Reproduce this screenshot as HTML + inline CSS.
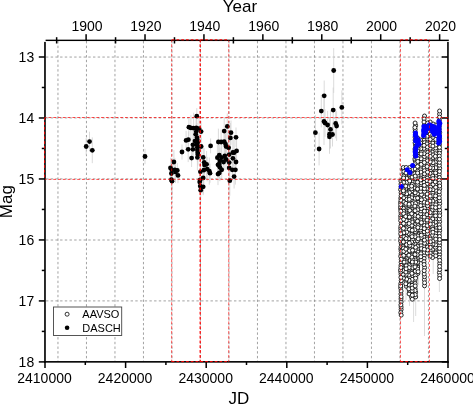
<!DOCTYPE html><html><head><meta charset="utf-8"><style>html,body{margin:0;padding:0;background:#fff;overflow:hidden;width:473px;height:404px;}svg{display:block;}text{font-family:"Liberation Sans",sans-serif;fill:#000;}svg{will-change:transform;}</style></head><body>
<svg width="473" height="404" viewBox="0 0 473 404">
<rect width="473" height="404" fill="#fff"/>
<line x1="57.96" y1="41" x2="57.96" y2="361" stroke="#8a8a8a" stroke-width="0.8" stroke-dasharray="2.4 2.3"/>
<line x1="86.46" y1="41" x2="86.46" y2="361" stroke="#8a8a8a" stroke-width="0.8" stroke-dasharray="2.4 2.3"/>
<line x1="114.96" y1="41" x2="114.96" y2="361" stroke="#8a8a8a" stroke-width="0.8" stroke-dasharray="2.4 2.3"/>
<line x1="143.46" y1="41" x2="143.46" y2="361" stroke="#8a8a8a" stroke-width="0.8" stroke-dasharray="2.4 2.3"/>
<line x1="171.96" y1="41" x2="171.96" y2="361" stroke="#8a8a8a" stroke-width="0.8" stroke-dasharray="2.4 2.3"/>
<line x1="200.46" y1="41" x2="200.46" y2="361" stroke="#8a8a8a" stroke-width="0.8" stroke-dasharray="2.4 2.3"/>
<line x1="228.96" y1="41" x2="228.96" y2="361" stroke="#8a8a8a" stroke-width="0.8" stroke-dasharray="2.4 2.3"/>
<line x1="257.46" y1="41" x2="257.46" y2="361" stroke="#8a8a8a" stroke-width="0.8" stroke-dasharray="2.4 2.3"/>
<line x1="285.96" y1="41" x2="285.96" y2="361" stroke="#8a8a8a" stroke-width="0.8" stroke-dasharray="2.4 2.3"/>
<line x1="314.46" y1="41" x2="314.46" y2="361" stroke="#8a8a8a" stroke-width="0.8" stroke-dasharray="2.4 2.3"/>
<line x1="342.96" y1="41" x2="342.96" y2="361" stroke="#8a8a8a" stroke-width="0.8" stroke-dasharray="2.4 2.3"/>
<line x1="371.46" y1="41" x2="371.46" y2="361" stroke="#8a8a8a" stroke-width="0.8" stroke-dasharray="2.4 2.3"/>
<line x1="399.96" y1="41" x2="399.96" y2="361" stroke="#8a8a8a" stroke-width="0.8" stroke-dasharray="2.4 2.3"/>
<line x1="428.46" y1="41" x2="428.46" y2="361" stroke="#8a8a8a" stroke-width="0.8" stroke-dasharray="2.4 2.3"/>
<line x1="46" y1="57.05" x2="447" y2="57.05" stroke="#8a8a8a" stroke-width="0.8" stroke-dasharray="2.4 2.3"/>
<line x1="46" y1="117.90" x2="447" y2="117.90" stroke="#8a8a8a" stroke-width="0.8" stroke-dasharray="2.4 2.3"/>
<line x1="46" y1="178.90" x2="447" y2="178.90" stroke="#8a8a8a" stroke-width="0.8" stroke-dasharray="2.4 2.3"/>
<line x1="46" y1="240.00" x2="447" y2="240.00" stroke="#8a8a8a" stroke-width="0.8" stroke-dasharray="2.4 2.3"/>
<line x1="46" y1="300.90" x2="447" y2="300.90" stroke="#8a8a8a" stroke-width="0.8" stroke-dasharray="2.4 2.3"/>
<g stroke="#d2d2d2" stroke-width="0.8"><line x1="89.5" y1="131.7" x2="89.5" y2="151.5"/><line x1="86.2" y1="138.1" x2="86.2" y2="154.9"/><line x1="92.3" y1="137.4" x2="92.3" y2="163.2"/><line x1="145.0" y1="148.8" x2="145.0" y2="164.2"/><line x1="173.9" y1="150.2" x2="173.9" y2="173.8"/><line x1="170.5" y1="157.7" x2="170.5" y2="178.3"/><line x1="171.8" y1="162.3" x2="171.8" y2="177.3"/><line x1="174.9" y1="158.2" x2="174.9" y2="181.4"/><line x1="177.3" y1="163.1" x2="177.3" y2="177.7"/><line x1="175.5" y1="161.1" x2="175.5" y2="182.9"/><line x1="171.4" y1="165.9" x2="171.4" y2="181.1"/><line x1="178.0" y1="167.6" x2="178.0" y2="183.2"/><line x1="171.4" y1="168.9" x2="171.4" y2="190.5"/><line x1="172.0" y1="166.8" x2="172.0" y2="195.6"/><line x1="196.8" y1="108.1" x2="196.8" y2="124.3"/><line x1="188.9" y1="118.2" x2="188.9" y2="136.2"/><line x1="190.9" y1="115.3" x2="190.9" y2="140.5"/><line x1="193.6" y1="112.7" x2="193.6" y2="143.7"/><line x1="196.3" y1="115.7" x2="196.3" y2="140.1"/><line x1="201.1" y1="121.0" x2="201.1" y2="142.2"/><line x1="196.3" y1="115.8" x2="196.3" y2="147.4"/><line x1="195.7" y1="126.9" x2="195.7" y2="141.7"/><line x1="197.0" y1="123.0" x2="197.0" y2="152.4"/><line x1="186.1" y1="130.8" x2="186.1" y2="150.0"/><line x1="188.4" y1="131.4" x2="188.4" y2="148.0"/><line x1="195.0" y1="133.0" x2="195.0" y2="149.2"/><line x1="197.7" y1="132.6" x2="197.7" y2="152.2"/><line x1="192.9" y1="130.5" x2="192.9" y2="159.1"/><line x1="201.1" y1="137.9" x2="201.1" y2="155.1"/><line x1="197.4" y1="135.0" x2="197.4" y2="159.4"/><line x1="188.2" y1="136.5" x2="188.2" y2="162.1"/><line x1="192.9" y1="138.9" x2="192.9" y2="159.7"/><line x1="197.4" y1="138.0" x2="197.4" y2="161.8"/><line x1="182.0" y1="144.4" x2="182.0" y2="159.6"/><line x1="197.7" y1="145.2" x2="197.7" y2="160.2"/><line x1="191.6" y1="149.2" x2="191.6" y2="167.0"/><line x1="197.4" y1="144.3" x2="197.4" y2="170.5"/><line x1="203.2" y1="146.6" x2="203.2" y2="168.2"/><line x1="197.2" y1="129.7" x2="197.2" y2="149.3"/><line x1="196.8" y1="132.3" x2="196.8" y2="156.9"/><line x1="197.9" y1="143.3" x2="197.9" y2="165.5"/><line x1="199.0" y1="118.9" x2="199.0" y2="138.3"/><line x1="204.2" y1="148.2" x2="204.2" y2="176.4"/><line x1="206.6" y1="151.0" x2="206.6" y2="177.6"/><line x1="204.5" y1="155.8" x2="204.5" y2="174.2"/><line x1="207.2" y1="156.9" x2="207.2" y2="181.3"/><line x1="200.4" y1="160.1" x2="200.4" y2="183.5"/><line x1="203.8" y1="155.3" x2="203.8" y2="185.1"/><line x1="209.3" y1="157.5" x2="209.3" y2="184.7"/><line x1="210.0" y1="163.6" x2="210.0" y2="182.8"/><line x1="203.2" y1="162.1" x2="203.2" y2="193.7"/><line x1="200.2" y1="171.9" x2="200.2" y2="188.1"/><line x1="199.7" y1="171.2" x2="199.7" y2="192.8"/><line x1="200.2" y1="172.3" x2="200.2" y2="199.9"/><line x1="203.2" y1="178.4" x2="203.2" y2="195.2"/><line x1="200.7" y1="178.8" x2="200.7" y2="201.6"/><line x1="210.6" y1="138.5" x2="210.6" y2="153.3"/><line x1="227.3" y1="113.4" x2="227.3" y2="139.4"/><line x1="224.2" y1="117.2" x2="224.2" y2="145.0"/><line x1="231.0" y1="120.5" x2="231.0" y2="144.9"/><line x1="230.4" y1="123.0" x2="230.4" y2="152.8"/><line x1="236.0" y1="127.5" x2="236.0" y2="147.1"/><line x1="218.4" y1="128.7" x2="218.4" y2="155.3"/><line x1="221.1" y1="129.7" x2="221.1" y2="154.3"/><line x1="224.2" y1="129.4" x2="224.2" y2="153.8"/><line x1="225.5" y1="133.0" x2="225.5" y2="155.2"/><line x1="226.1" y1="131.9" x2="226.1" y2="161.1"/><line x1="228.6" y1="132.3" x2="228.6" y2="163.3"/><line x1="236.6" y1="139.6" x2="236.6" y2="162.2"/><line x1="234.1" y1="139.7" x2="234.1" y2="165.7"/><line x1="229.2" y1="147.1" x2="229.2" y2="162.1"/><line x1="219.3" y1="141.9" x2="219.3" y2="168.5"/><line x1="217.4" y1="144.9" x2="217.4" y2="170.5"/><line x1="221.7" y1="141.8" x2="221.7" y2="173.6"/><line x1="224.8" y1="141.4" x2="224.8" y2="170.2"/><line x1="232.9" y1="148.7" x2="232.9" y2="167.9"/><line x1="226.1" y1="149.0" x2="226.1" y2="170.0"/><line x1="219.9" y1="147.8" x2="219.9" y2="173.8"/><line x1="223.6" y1="154.8" x2="223.6" y2="169.2"/><line x1="229.2" y1="151.4" x2="229.2" y2="173.8"/><line x1="236.0" y1="153.5" x2="236.0" y2="170.5"/><line x1="219.3" y1="155.8" x2="219.3" y2="172.0"/><line x1="218.0" y1="157.3" x2="218.0" y2="172.3"/><line x1="219.9" y1="153.4" x2="219.9" y2="181.2"/><line x1="221.7" y1="161.6" x2="221.7" y2="178.0"/><line x1="229.2" y1="158.7" x2="229.2" y2="177.1"/><line x1="232.3" y1="159.3" x2="232.3" y2="180.3"/><line x1="235.4" y1="155.0" x2="235.4" y2="184.6"/><line x1="219.3" y1="165.2" x2="219.3" y2="180.6"/><line x1="218.0" y1="163.1" x2="218.0" y2="185.1"/><line x1="234.1" y1="164.7" x2="234.1" y2="188.5"/><line x1="229.8" y1="165.7" x2="229.8" y2="195.7"/><line x1="232.9" y1="138.1" x2="232.9" y2="166.9"/><line x1="333.7" y1="48.1" x2="333.7" y2="92.9"/><line x1="324.2" y1="80.5" x2="324.2" y2="111.1"/><line x1="341.8" y1="90.4" x2="341.8" y2="124.4"/><line x1="321.3" y1="94.8" x2="321.3" y2="127.4"/><line x1="333.2" y1="87.5" x2="333.2" y2="132.7"/><line x1="324.0" y1="98.0" x2="324.0" y2="145.0"/><line x1="325.0" y1="109.2" x2="325.0" y2="136.8"/><line x1="327.6" y1="110.9" x2="327.6" y2="139.1"/><line x1="335.7" y1="108.7" x2="335.7" y2="138.3"/><line x1="336.6" y1="111.2" x2="336.6" y2="140.8"/><line x1="315.4" y1="114.9" x2="315.4" y2="150.5"/><line x1="330.5" y1="110.3" x2="330.5" y2="148.5"/><line x1="329.5" y1="119.0" x2="329.5" y2="149.4"/><line x1="332.5" y1="122.5" x2="332.5" y2="146.5"/><line x1="329.5" y1="119.8" x2="329.5" y2="153.8"/><line x1="319.1" y1="132.6" x2="319.1" y2="165.4"/><line x1="400.6" y1="300" x2="400.6" y2="326"/><line x1="413.6" y1="290" x2="413.6" y2="322"/><line x1="415.7" y1="285" x2="415.7" y2="316"/><line x1="424.5" y1="270" x2="424.5" y2="336"/><line x1="439.4" y1="270" x2="439.4" y2="292"/><line x1="433.2" y1="250" x2="433.2" y2="274"/><line x1="418.6" y1="262" x2="418.6" y2="285"/><line x1="406" y1="285" x2="406" y2="300"/><line x1="409.5" y1="288" x2="409.5" y2="306"/></g>
<g fill="#fff" stroke="#111" stroke-width="0.9"><circle cx="415.1" cy="222.3" r="2.0"/><circle cx="412.3" cy="192.7" r="2.0"/><circle cx="435.7" cy="241.6" r="2.0"/><circle cx="401.2" cy="243.7" r="2.0"/><circle cx="403.3" cy="169.1" r="2.0"/><circle cx="412.4" cy="172.1" r="2.0"/><circle cx="418.2" cy="200.3" r="2.0"/><circle cx="435.7" cy="202.1" r="2.0"/><circle cx="415.4" cy="226.8" r="2.0"/><circle cx="414.9" cy="180.0" r="2.0"/><circle cx="406.3" cy="218.9" r="2.0"/><circle cx="411.6" cy="283.6" r="2.0"/><circle cx="403.9" cy="217.7" r="2.0"/><circle cx="427.5" cy="133.8" r="2.0"/><circle cx="421.3" cy="197.4" r="2.0"/><circle cx="405.9" cy="206.5" r="2.0"/><circle cx="406.6" cy="190.0" r="2.0"/><circle cx="415.0" cy="185.0" r="2.0"/><circle cx="424.2" cy="125.2" r="2.0"/><circle cx="406.1" cy="188.5" r="2.0"/><circle cx="400.6" cy="202.4" r="2.0"/><circle cx="415.6" cy="213.3" r="2.0"/><circle cx="417.9" cy="202.4" r="2.0"/><circle cx="403.4" cy="272.2" r="2.0"/><circle cx="412.5" cy="269.5" r="2.0"/><circle cx="411.7" cy="277.2" r="2.0"/><circle cx="418.1" cy="259.8" r="2.0"/><circle cx="439.7" cy="212.9" r="2.0"/><circle cx="430.4" cy="229.9" r="2.0"/><circle cx="417.6" cy="231.7" r="2.0"/><circle cx="420.6" cy="177.1" r="2.0"/><circle cx="400.6" cy="189.6" r="2.0"/><circle cx="412.5" cy="174.3" r="2.0"/><circle cx="401.1" cy="253.9" r="2.0"/><circle cx="417.7" cy="179.5" r="2.0"/><circle cx="406.0" cy="281.1" r="2.0"/><circle cx="408.8" cy="185.1" r="2.0"/><circle cx="401.1" cy="192.7" r="2.0"/><circle cx="408.8" cy="194.8" r="2.0"/><circle cx="415.5" cy="144.7" r="2.0"/><circle cx="427.4" cy="150.0" r="2.0"/><circle cx="417.9" cy="155.7" r="2.0"/><circle cx="433.1" cy="132.5" r="2.0"/><circle cx="430.2" cy="209.7" r="2.0"/><circle cx="417.6" cy="257.5" r="2.0"/><circle cx="432.8" cy="170.5" r="2.0"/><circle cx="403.5" cy="194.3" r="2.0"/><circle cx="406.2" cy="257.1" r="2.0"/><circle cx="432.9" cy="149.0" r="2.0"/><circle cx="415.5" cy="223.9" r="2.0"/><circle cx="415.2" cy="182.0" r="2.0"/><circle cx="427.4" cy="191.4" r="2.0"/><circle cx="435.3" cy="159.1" r="2.0"/><circle cx="435.8" cy="170.1" r="2.0"/><circle cx="415.6" cy="170.9" r="2.0"/><circle cx="421.4" cy="202.5" r="2.0"/><circle cx="409.2" cy="282.3" r="2.0"/><circle cx="420.6" cy="140.0" r="2.0"/><circle cx="435.8" cy="133.5" r="2.0"/><circle cx="418.2" cy="243.8" r="2.0"/><circle cx="424.1" cy="234.5" r="2.0"/><circle cx="427.0" cy="169.0" r="2.0"/><circle cx="400.7" cy="288.2" r="2.0"/><circle cx="435.8" cy="142.5" r="2.0"/><circle cx="405.8" cy="201.3" r="2.0"/><circle cx="401.1" cy="309.5" r="2.0"/><circle cx="409.2" cy="212.6" r="2.0"/><circle cx="404.0" cy="200.0" r="2.0"/><circle cx="427.5" cy="158.3" r="2.0"/><circle cx="400.9" cy="181.0" r="2.0"/><circle cx="412.5" cy="252.8" r="2.0"/><circle cx="439.4" cy="272.6" r="2.0"/><circle cx="430.4" cy="150.8" r="2.0"/><circle cx="417.6" cy="177.7" r="2.0"/><circle cx="417.7" cy="264.6" r="2.0"/><circle cx="421.0" cy="145.8" r="2.0"/><circle cx="403.1" cy="206.2" r="2.0"/><circle cx="439.3" cy="174.4" r="2.0"/><circle cx="439.7" cy="150.5" r="2.0"/><circle cx="439.5" cy="153.3" r="2.0"/><circle cx="406.0" cy="208.3" r="2.0"/><circle cx="415.6" cy="292.3" r="2.0"/><circle cx="424.0" cy="237.3" r="2.0"/><circle cx="406.0" cy="210.8" r="2.0"/><circle cx="433.1" cy="198.3" r="2.0"/><circle cx="430.0" cy="165.1" r="2.0"/><circle cx="439.4" cy="141.6" r="2.0"/><circle cx="403.4" cy="221.0" r="2.0"/><circle cx="427.6" cy="236.4" r="2.0"/><circle cx="418.1" cy="146.1" r="2.0"/><circle cx="430.3" cy="236.1" r="2.0"/><circle cx="409.3" cy="257.7" r="2.0"/><circle cx="405.7" cy="270.2" r="2.0"/><circle cx="409.6" cy="271.1" r="2.0"/><circle cx="439.6" cy="254.5" r="2.0"/><circle cx="409.6" cy="272.5" r="2.0"/><circle cx="409.5" cy="214.7" r="2.0"/><circle cx="409.7" cy="292.1" r="2.0"/><circle cx="424.6" cy="165.2" r="2.0"/><circle cx="435.4" cy="249.6" r="2.0"/><circle cx="411.7" cy="210.1" r="2.0"/><circle cx="424.4" cy="131.3" r="2.0"/><circle cx="435.6" cy="164.8" r="2.0"/><circle cx="400.7" cy="209.0" r="2.0"/><circle cx="415.5" cy="220.3" r="2.0"/><circle cx="411.6" cy="297.1" r="2.0"/><circle cx="404.0" cy="239.2" r="2.0"/><circle cx="424.3" cy="194.1" r="2.0"/><circle cx="412.5" cy="217.6" r="2.0"/><circle cx="412.6" cy="208.1" r="2.0"/><circle cx="411.8" cy="167.5" r="2.0"/><circle cx="420.7" cy="167.1" r="2.0"/><circle cx="412.3" cy="299.2" r="2.0"/><circle cx="406.7" cy="254.3" r="2.0"/><circle cx="403.3" cy="167.5" r="2.0"/><circle cx="421.0" cy="156.6" r="2.0"/><circle cx="415.1" cy="132.1" r="2.0"/><circle cx="400.7" cy="228.3" r="2.0"/><circle cx="439.5" cy="144.5" r="2.0"/><circle cx="433.0" cy="160.2" r="2.0"/><circle cx="430.1" cy="148.2" r="2.0"/><circle cx="409.6" cy="176.3" r="2.0"/><circle cx="415.2" cy="160.7" r="2.0"/><circle cx="439.6" cy="138.5" r="2.0"/><circle cx="411.8" cy="201.6" r="2.0"/><circle cx="406.2" cy="251.0" r="2.0"/><circle cx="430.3" cy="184.7" r="2.0"/><circle cx="427.1" cy="141.5" r="2.0"/><circle cx="411.8" cy="205.4" r="2.0"/><circle cx="409.1" cy="227.2" r="2.0"/><circle cx="424.2" cy="246.3" r="2.0"/><circle cx="412.0" cy="200.0" r="2.0"/><circle cx="439.7" cy="263.4" r="2.0"/><circle cx="418.0" cy="195.8" r="2.0"/><circle cx="430.4" cy="142.4" r="2.0"/><circle cx="439.4" cy="257.5" r="2.0"/><circle cx="412.0" cy="220.0" r="2.0"/><circle cx="411.9" cy="223.9" r="2.0"/><circle cx="439.4" cy="177.5" r="2.0"/><circle cx="415.5" cy="256.4" r="2.0"/><circle cx="409.6" cy="178.8" r="2.0"/><circle cx="430.0" cy="178.8" r="2.0"/><circle cx="415.0" cy="258.4" r="2.0"/><circle cx="411.7" cy="228.2" r="2.0"/><circle cx="406.3" cy="286.3" r="2.0"/><circle cx="430.3" cy="233.0" r="2.0"/><circle cx="432.7" cy="213.0" r="2.0"/><circle cx="435.8" cy="167.7" r="2.0"/><circle cx="433.0" cy="246.6" r="2.0"/><circle cx="420.8" cy="216.9" r="2.0"/><circle cx="406.7" cy="169.0" r="2.0"/><circle cx="417.7" cy="204.7" r="2.0"/><circle cx="418.1" cy="214.2" r="2.0"/><circle cx="439.7" cy="269.5" r="2.0"/><circle cx="430.1" cy="131.0" r="2.0"/><circle cx="417.9" cy="140.8" r="2.0"/><circle cx="439.3" cy="129.2" r="2.0"/><circle cx="403.1" cy="179.6" r="2.0"/><circle cx="435.9" cy="227.8" r="2.0"/><circle cx="411.6" cy="248.3" r="2.0"/><circle cx="424.4" cy="255.2" r="2.0"/><circle cx="427.4" cy="208.5" r="2.0"/><circle cx="401.0" cy="274.3" r="2.0"/><circle cx="403.6" cy="215.6" r="2.0"/><circle cx="433.0" cy="238.4" r="2.0"/><circle cx="401.1" cy="302.0" r="2.0"/><circle cx="430.2" cy="159.4" r="2.0"/><circle cx="424.1" cy="205.5" r="2.0"/><circle cx="415.2" cy="273.1" r="2.0"/><circle cx="439.7" cy="168.2" r="2.0"/><circle cx="411.8" cy="292.5" r="2.0"/><circle cx="403.9" cy="225.7" r="2.0"/><circle cx="433.1" cy="252.0" r="2.0"/><circle cx="424.1" cy="196.9" r="2.0"/><circle cx="427.4" cy="244.5" r="2.0"/><circle cx="406.5" cy="234.1" r="2.0"/><circle cx="432.7" cy="255.0" r="2.0"/><circle cx="403.6" cy="264.0" r="2.0"/><circle cx="409.7" cy="241.5" r="2.0"/><circle cx="403.9" cy="209.6" r="2.0"/><circle cx="420.8" cy="225.1" r="2.0"/><circle cx="403.3" cy="208.2" r="2.0"/><circle cx="406.4" cy="184.6" r="2.0"/><circle cx="430.4" cy="170.7" r="2.0"/><circle cx="439.5" cy="171.4" r="2.0"/><circle cx="403.2" cy="257.7" r="2.0"/><circle cx="424.1" cy="159.5" r="2.0"/><circle cx="412.5" cy="203.3" r="2.0"/><circle cx="417.7" cy="249.1" r="2.0"/><circle cx="424.3" cy="139.7" r="2.0"/><circle cx="424.5" cy="142.7" r="2.0"/><circle cx="432.5" cy="249.6" r="2.0"/><circle cx="430.4" cy="136.9" r="2.0"/><circle cx="403.9" cy="266.8" r="2.0"/><circle cx="415.3" cy="239.0" r="2.0"/><circle cx="415.1" cy="142.8" r="2.0"/><circle cx="420.8" cy="161.5" r="2.0"/><circle cx="427.4" cy="125.8" r="2.0"/><circle cx="415.7" cy="166.1" r="2.0"/><circle cx="424.4" cy="156.5" r="2.0"/><circle cx="424.4" cy="279.8" r="2.0"/><circle cx="427.4" cy="152.4" r="2.0"/><circle cx="439.6" cy="221.7" r="2.0"/><circle cx="401.1" cy="262.3" r="2.0"/><circle cx="427.6" cy="138.8" r="2.0"/><circle cx="417.9" cy="169.0" r="2.0"/><circle cx="409.4" cy="190.4" r="2.0"/><circle cx="439.6" cy="251.3" r="2.0"/><circle cx="409.1" cy="231.9" r="2.0"/><circle cx="421.0" cy="239.9" r="2.0"/><circle cx="414.9" cy="159.0" r="2.0"/><circle cx="408.9" cy="219.4" r="2.0"/><circle cx="432.9" cy="173.3" r="2.0"/><circle cx="409.1" cy="293.9" r="2.0"/><circle cx="400.6" cy="241.1" r="2.0"/><circle cx="411.9" cy="190.9" r="2.0"/><circle cx="409.7" cy="262.1" r="2.0"/><circle cx="409.3" cy="252.4" r="2.0"/><circle cx="430.0" cy="226.8" r="2.0"/><circle cx="435.5" cy="247.2" r="2.0"/><circle cx="421.0" cy="174.4" r="2.0"/><circle cx="432.7" cy="216.2" r="2.0"/><circle cx="414.9" cy="173.5" r="2.0"/><circle cx="430.4" cy="206.6" r="2.0"/><circle cx="415.4" cy="218.3" r="2.0"/><circle cx="439.3" cy="224.8" r="2.0"/><circle cx="427.4" cy="200.6" r="2.0"/><circle cx="403.6" cy="234.8" r="2.0"/><circle cx="403.5" cy="276.8" r="2.0"/><circle cx="432.9" cy="157.5" r="2.0"/><circle cx="409.0" cy="208.1" r="2.0"/><circle cx="418.1" cy="234.1" r="2.0"/><circle cx="417.8" cy="223.0" r="2.0"/><circle cx="439.7" cy="132.4" r="2.0"/><circle cx="415.2" cy="251.8" r="2.0"/><circle cx="420.7" cy="219.9" r="2.0"/><circle cx="409.1" cy="205.7" r="2.0"/><circle cx="404.0" cy="244.1" r="2.0"/><circle cx="417.8" cy="273.5" r="2.0"/><circle cx="409.5" cy="260.4" r="2.0"/><circle cx="417.8" cy="229.7" r="2.0"/><circle cx="405.9" cy="212.9" r="2.0"/><circle cx="427.3" cy="242.0" r="2.0"/><circle cx="405.8" cy="283.8" r="2.0"/><circle cx="406.5" cy="174.5" r="2.0"/><circle cx="424.5" cy="219.8" r="2.0"/><circle cx="435.8" cy="175.9" r="2.0"/><circle cx="412.2" cy="266.3" r="2.0"/><circle cx="427.1" cy="211.4" r="2.0"/><circle cx="432.8" cy="181.9" r="2.0"/><circle cx="400.8" cy="283.7" r="2.0"/><circle cx="415.7" cy="234.6" r="2.0"/><circle cx="439.7" cy="230.6" r="2.0"/><circle cx="400.7" cy="215.9" r="2.0"/><circle cx="418.1" cy="218.8" r="2.0"/><circle cx="406.7" cy="171.5" r="2.0"/><circle cx="405.8" cy="240.0" r="2.0"/><circle cx="406.1" cy="225.8" r="2.0"/><circle cx="411.7" cy="211.8" r="2.0"/><circle cx="415.1" cy="215.4" r="2.0"/><circle cx="406.4" cy="276.7" r="2.0"/><circle cx="417.6" cy="212.4" r="2.0"/><circle cx="421.3" cy="232.4" r="2.0"/><circle cx="415.0" cy="241.9" r="2.0"/><circle cx="415.6" cy="163.5" r="2.0"/><circle cx="432.8" cy="152.1" r="2.0"/><circle cx="435.6" cy="244.8" r="2.0"/><circle cx="424.1" cy="168.0" r="2.0"/><circle cx="435.4" cy="162.0" r="2.0"/><circle cx="412.3" cy="275.7" r="2.0"/><circle cx="409.6" cy="167.5" r="2.0"/><circle cx="435.8" cy="136.4" r="2.0"/><circle cx="417.5" cy="240.8" r="2.0"/><circle cx="406.2" cy="264.1" r="2.0"/><circle cx="432.5" cy="165.5" r="2.0"/><circle cx="424.5" cy="116.0" r="2.0"/><circle cx="406.7" cy="258.8" r="2.0"/><circle cx="424.5" cy="243.2" r="2.0"/><circle cx="435.8" cy="230.8" r="2.0"/><circle cx="435.8" cy="150.8" r="2.0"/><circle cx="408.8" cy="225.7" r="2.0"/><circle cx="405.8" cy="176.3" r="2.0"/><circle cx="415.3" cy="194.4" r="2.0"/><circle cx="415.3" cy="260.0" r="2.0"/><circle cx="411.9" cy="271.8" r="2.0"/><circle cx="400.9" cy="294.0" r="2.0"/><circle cx="417.7" cy="267.0" r="2.0"/><circle cx="424.4" cy="222.9" r="2.0"/><circle cx="415.2" cy="155.3" r="2.0"/><circle cx="424.4" cy="170.7" r="2.0"/><circle cx="439.3" cy="233.6" r="2.0"/><circle cx="404.0" cy="195.9" r="2.0"/><circle cx="411.8" cy="232.9" r="2.0"/><circle cx="424.1" cy="118.9" r="2.0"/><circle cx="435.7" cy="148.0" r="2.0"/><circle cx="415.5" cy="244.6" r="2.0"/><circle cx="412.3" cy="259.3" r="2.0"/><circle cx="424.5" cy="225.5" r="2.0"/><circle cx="439.6" cy="245.3" r="2.0"/><circle cx="405.8" cy="223.3" r="2.0"/><circle cx="427.5" cy="175.1" r="2.0"/><circle cx="400.7" cy="256.3" r="2.0"/><circle cx="427.5" cy="247.0" r="2.0"/><circle cx="424.6" cy="267.6" r="2.0"/><circle cx="424.2" cy="151.0" r="2.0"/><circle cx="406.1" cy="260.7" r="2.0"/><circle cx="432.7" cy="129.7" r="2.0"/><circle cx="427.0" cy="136.3" r="2.0"/><circle cx="415.6" cy="190.0" r="2.0"/><circle cx="406.5" cy="192.3" r="2.0"/><circle cx="409.5" cy="277.7" r="2.0"/><circle cx="400.8" cy="198.2" r="2.0"/><circle cx="435.5" cy="219.0" r="2.0"/><circle cx="430.1" cy="175.9" r="2.0"/><circle cx="424.2" cy="153.7" r="2.0"/><circle cx="400.8" cy="312.6" r="2.0"/><circle cx="415.0" cy="280.8" r="2.0"/><circle cx="432.7" cy="168.1" r="2.0"/><circle cx="417.8" cy="191.2" r="2.0"/><circle cx="421.4" cy="250.9" r="2.0"/><circle cx="415.2" cy="178.2" r="2.0"/><circle cx="401.2" cy="223.7" r="2.0"/><circle cx="400.8" cy="230.8" r="2.0"/><circle cx="417.5" cy="193.8" r="2.0"/><circle cx="412.6" cy="169.4" r="2.0"/><circle cx="435.5" cy="233.5" r="2.0"/><circle cx="421.4" cy="194.5" r="2.0"/><circle cx="403.6" cy="204.1" r="2.0"/><circle cx="406.0" cy="180.8" r="2.0"/><circle cx="420.6" cy="185.6" r="2.0"/><circle cx="411.9" cy="225.4" r="2.0"/><circle cx="403.5" cy="268.4" r="2.0"/><circle cx="408.9" cy="275.0" r="2.0"/><circle cx="430.3" cy="153.8" r="2.0"/><circle cx="432.6" cy="226.7" r="2.0"/><circle cx="435.9" cy="193.0" r="2.0"/><circle cx="427.1" cy="239.0" r="2.0"/><circle cx="421.1" cy="158.8" r="2.0"/><circle cx="408.9" cy="201.7" r="2.0"/><circle cx="439.7" cy="203.7" r="2.0"/><circle cx="435.7" cy="184.9" r="2.0"/><circle cx="430.2" cy="134.2" r="2.0"/><circle cx="427.3" cy="186.3" r="2.0"/><circle cx="439.6" cy="227.7" r="2.0"/><circle cx="409.6" cy="188.2" r="2.0"/><circle cx="424.2" cy="176.7" r="2.0"/><circle cx="429.9" cy="203.9" r="2.0"/><circle cx="427.0" cy="143.9" r="2.0"/><circle cx="400.8" cy="249.0" r="2.0"/><circle cx="439.3" cy="180.3" r="2.0"/><circle cx="415.3" cy="268.6" r="2.0"/><circle cx="430.4" cy="193.0" r="2.0"/><circle cx="420.9" cy="242.8" r="2.0"/><circle cx="424.1" cy="258.5" r="2.0"/><circle cx="424.0" cy="148.4" r="2.0"/><circle cx="406.6" cy="195.3" r="2.0"/><circle cx="433.0" cy="244.1" r="2.0"/><circle cx="409.3" cy="174.2" r="2.0"/><circle cx="439.3" cy="126.4" r="2.0"/><circle cx="427.5" cy="228.4" r="2.0"/><circle cx="408.9" cy="236.0" r="2.0"/><circle cx="435.5" cy="153.7" r="2.0"/><circle cx="439.7" cy="260.3" r="2.0"/><circle cx="415.7" cy="157.2" r="2.0"/><circle cx="432.6" cy="257.5" r="2.0"/><circle cx="408.8" cy="264.2" r="2.0"/><circle cx="439.3" cy="218.9" r="2.0"/><circle cx="430.2" cy="244.3" r="2.0"/><circle cx="427.5" cy="205.8" r="2.0"/><circle cx="433.0" cy="204.1" r="2.0"/><circle cx="403.6" cy="230.6" r="2.0"/><circle cx="430.1" cy="250.4" r="2.0"/><circle cx="411.6" cy="179.5" r="2.0"/><circle cx="424.5" cy="276.7" r="2.0"/><circle cx="424.4" cy="208.2" r="2.0"/><circle cx="403.6" cy="211.3" r="2.0"/><circle cx="417.7" cy="158.6" r="2.0"/><circle cx="427.3" cy="197.4" r="2.0"/><circle cx="427.6" cy="223.2" r="2.0"/><circle cx="427.3" cy="225.6" r="2.0"/><circle cx="424.1" cy="214.3" r="2.0"/><circle cx="409.1" cy="247.5" r="2.0"/><circle cx="432.6" cy="209.9" r="2.0"/><circle cx="404.0" cy="186.5" r="2.0"/><circle cx="403.9" cy="173.3" r="2.0"/><circle cx="424.5" cy="285.8" r="2.0"/><circle cx="412.1" cy="222.0" r="2.0"/><circle cx="415.1" cy="137.1" r="2.0"/><circle cx="424.0" cy="134.1" r="2.0"/><circle cx="432.6" cy="187.2" r="2.0"/><circle cx="403.3" cy="189.1" r="2.0"/><circle cx="406.5" cy="227.9" r="2.0"/><circle cx="400.7" cy="238.4" r="2.0"/><circle cx="433.0" cy="184.5" r="2.0"/><circle cx="435.5" cy="225.0" r="2.0"/><circle cx="432.8" cy="140.7" r="2.0"/><circle cx="424.4" cy="240.1" r="2.0"/><circle cx="417.9" cy="252.0" r="2.0"/><circle cx="433.1" cy="162.7" r="2.0"/><circle cx="420.7" cy="230.0" r="2.0"/><circle cx="427.2" cy="178.1" r="2.0"/><circle cx="427.6" cy="164.0" r="2.0"/><circle cx="412.1" cy="181.9" r="2.0"/><circle cx="420.7" cy="169.8" r="2.0"/><circle cx="432.9" cy="192.9" r="2.0"/><circle cx="415.7" cy="153.5" r="2.0"/><circle cx="435.5" cy="222.1" r="2.0"/><circle cx="405.7" cy="214.7" r="2.0"/><circle cx="427.5" cy="155.2" r="2.0"/><circle cx="432.6" cy="221.7" r="2.0"/><circle cx="415.3" cy="271.2" r="2.0"/><circle cx="401.1" cy="307.1" r="2.0"/><circle cx="439.4" cy="194.7" r="2.0"/><circle cx="400.8" cy="218.2" r="2.0"/><circle cx="411.8" cy="281.3" r="2.0"/><circle cx="405.9" cy="205.0" r="2.0"/><circle cx="432.9" cy="224.1" r="2.0"/><circle cx="432.8" cy="229.4" r="2.0"/><circle cx="432.7" cy="235.2" r="2.0"/><circle cx="403.3" cy="249.8" r="2.0"/><circle cx="439.7" cy="188.8" r="2.0"/><circle cx="406.6" cy="178.3" r="2.0"/><circle cx="435.8" cy="210.4" r="2.0"/><circle cx="406.0" cy="197.3" r="2.0"/><circle cx="400.6" cy="207.0" r="2.0"/><circle cx="421.1" cy="259.9" r="2.0"/><circle cx="412.4" cy="264.3" r="2.0"/><circle cx="417.8" cy="236.0" r="2.0"/><circle cx="411.8" cy="255.6" r="2.0"/><circle cx="401.1" cy="213.2" r="2.0"/><circle cx="433.1" cy="154.9" r="2.0"/><circle cx="439.4" cy="120.2" r="2.0"/><circle cx="411.9" cy="215.4" r="2.0"/><circle cx="439.5" cy="236.5" r="2.0"/><circle cx="403.9" cy="171.7" r="2.0"/><circle cx="406.4" cy="247.4" r="2.0"/><circle cx="435.6" cy="178.7" r="2.0"/><circle cx="417.9" cy="175.2" r="2.0"/><circle cx="439.6" cy="242.4" r="2.0"/><circle cx="409.1" cy="221.1" r="2.0"/><circle cx="415.1" cy="288.6" r="2.0"/><circle cx="418.2" cy="207.5" r="2.0"/><circle cx="406.2" cy="274.3" r="2.0"/><circle cx="421.2" cy="182.9" r="2.0"/><circle cx="417.6" cy="269.0" r="2.0"/><circle cx="424.0" cy="261.7" r="2.0"/><circle cx="406.6" cy="199.5" r="2.0"/><circle cx="415.1" cy="290.5" r="2.0"/><circle cx="420.7" cy="213.8" r="2.0"/><circle cx="404.0" cy="184.5" r="2.0"/><circle cx="430.5" cy="187.2" r="2.0"/><circle cx="433.0" cy="137.5" r="2.0"/><circle cx="409.6" cy="290.3" r="2.0"/><circle cx="435.3" cy="181.9" r="2.0"/><circle cx="409.5" cy="192.7" r="2.0"/><circle cx="401.0" cy="186.8" r="2.0"/><circle cx="420.9" cy="172.1" r="2.0"/><circle cx="415.0" cy="149.0" r="2.0"/><circle cx="415.6" cy="125.5" r="2.0"/><circle cx="424.2" cy="274.0" r="2.0"/><circle cx="415.4" cy="275.6" r="2.0"/><circle cx="435.9" cy="190.3" r="2.0"/><circle cx="400.9" cy="226.2" r="2.0"/><circle cx="432.7" cy="176.0" r="2.0"/><circle cx="427.4" cy="147.0" r="2.0"/><circle cx="412.1" cy="290.8" r="2.0"/><circle cx="404.0" cy="253.8" r="2.0"/><circle cx="430.3" cy="217.9" r="2.0"/><circle cx="406.2" cy="220.6" r="2.0"/><circle cx="415.3" cy="231.7" r="2.0"/><circle cx="420.7" cy="191.4" r="2.0"/><circle cx="403.6" cy="197.8" r="2.0"/><circle cx="427.5" cy="160.8" r="2.0"/><circle cx="439.6" cy="200.7" r="2.0"/><circle cx="421.0" cy="245.8" r="2.0"/><circle cx="435.4" cy="156.3" r="2.0"/><circle cx="401.0" cy="200.3" r="2.0"/><circle cx="401.0" cy="298.9" r="2.0"/><circle cx="427.5" cy="233.7" r="2.0"/><circle cx="439.7" cy="215.8" r="2.0"/><circle cx="414.9" cy="201.3" r="2.0"/><circle cx="421.1" cy="151.3" r="2.0"/><circle cx="439.6" cy="239.5" r="2.0"/><circle cx="427.1" cy="217.7" r="2.0"/><circle cx="409.5" cy="183.4" r="2.0"/><circle cx="424.5" cy="199.6" r="2.0"/><circle cx="439.5" cy="123.3" r="2.0"/><circle cx="432.8" cy="143.2" r="2.0"/><circle cx="432.7" cy="218.9" r="2.0"/><circle cx="417.6" cy="138.0" r="2.0"/><circle cx="420.8" cy="148.7" r="2.0"/><circle cx="409.7" cy="249.2" r="2.0"/><circle cx="427.1" cy="214.6" r="2.0"/><circle cx="417.6" cy="152.7" r="2.0"/><circle cx="415.7" cy="264.9" r="2.0"/><circle cx="401.0" cy="265.3" r="2.0"/><circle cx="430.2" cy="253.1" r="2.0"/><circle cx="432.9" cy="126.6" r="2.0"/><circle cx="427.2" cy="194.1" r="2.0"/><circle cx="415.5" cy="134.8" r="2.0"/><circle cx="404.1" cy="260.4" r="2.0"/><circle cx="417.4" cy="246.2" r="2.0"/><circle cx="415.1" cy="187.9" r="2.0"/><circle cx="415.1" cy="283.5" r="2.0"/><circle cx="433.0" cy="189.7" r="2.0"/><circle cx="415.2" cy="169.0" r="2.0"/><circle cx="404.0" cy="202.0" r="2.0"/><circle cx="403.1" cy="274.6" r="2.0"/><circle cx="424.3" cy="231.8" r="2.0"/><circle cx="406.2" cy="229.9" r="2.0"/><circle cx="417.8" cy="187.1" r="2.0"/><circle cx="424.2" cy="217.1" r="2.0"/><circle cx="439.5" cy="147.4" r="2.0"/><circle cx="403.6" cy="223.5" r="2.0"/><circle cx="409.3" cy="234.0" r="2.0"/><circle cx="409.2" cy="186.7" r="2.0"/><circle cx="412.1" cy="177.1" r="2.0"/><circle cx="435.7" cy="145.1" r="2.0"/><circle cx="406.7" cy="232.2" r="2.0"/><circle cx="433.0" cy="240.9" r="2.0"/><circle cx="412.2" cy="279.4" r="2.0"/><circle cx="409.1" cy="280.4" r="2.0"/><circle cx="417.5" cy="254.7" r="2.0"/><circle cx="400.7" cy="286.0" r="2.0"/><circle cx="420.9" cy="188.3" r="2.0"/><circle cx="415.7" cy="296.9" r="2.0"/><circle cx="409.8" cy="210.5" r="2.0"/><circle cx="439.6" cy="209.9" r="2.0"/><circle cx="439.6" cy="266.4" r="2.0"/><circle cx="420.9" cy="210.9" r="2.0"/><circle cx="430.0" cy="173.3" r="2.0"/><circle cx="424.1" cy="264.5" r="2.0"/><circle cx="415.0" cy="254.5" r="2.0"/><circle cx="424.3" cy="252.4" r="2.0"/><circle cx="421.3" cy="208.6" r="2.0"/><circle cx="400.7" cy="220.7" r="2.0"/><circle cx="405.9" cy="243.2" r="2.0"/><circle cx="415.1" cy="140.1" r="2.0"/><circle cx="427.2" cy="188.8" r="2.0"/><circle cx="406.6" cy="279.1" r="2.0"/><circle cx="418.1" cy="271.7" r="2.0"/><circle cx="435.7" cy="236.2" r="2.0"/><circle cx="430.2" cy="221.1" r="2.0"/><circle cx="430.1" cy="167.7" r="2.0"/><circle cx="411.9" cy="195.5" r="2.0"/><circle cx="435.8" cy="125.0" r="2.0"/><circle cx="435.8" cy="139.4" r="2.0"/><circle cx="420.7" cy="179.9" r="2.0"/><circle cx="418.1" cy="148.9" r="2.0"/><circle cx="435.7" cy="252.9" r="2.0"/><circle cx="430.3" cy="224.1" r="2.0"/><circle cx="432.7" cy="207.0" r="2.0"/><circle cx="415.1" cy="123.0" r="2.0"/><circle cx="430.3" cy="145.5" r="2.0"/><circle cx="409.3" cy="265.6" r="2.0"/><circle cx="429.9" cy="128.4" r="2.0"/><circle cx="432.8" cy="134.9" r="2.0"/><circle cx="406.1" cy="262.1" r="2.0"/><circle cx="406.6" cy="182.4" r="2.0"/><circle cx="424.4" cy="179.4" r="2.0"/><circle cx="421.3" cy="248.6" r="2.0"/><circle cx="430.1" cy="256.1" r="2.0"/><circle cx="406.0" cy="173.0" r="2.0"/><circle cx="424.3" cy="202.2" r="2.0"/><circle cx="412.3" cy="243.4" r="2.0"/><circle cx="409.4" cy="170.1" r="2.0"/><circle cx="415.1" cy="236.8" r="2.0"/><circle cx="415.7" cy="146.7" r="2.0"/><circle cx="412.4" cy="267.8" r="2.0"/><circle cx="401.0" cy="246.7" r="2.0"/><circle cx="435.7" cy="187.3" r="2.0"/><circle cx="435.6" cy="213.0" r="2.0"/><circle cx="417.5" cy="262.6" r="2.0"/><circle cx="420.7" cy="143.0" r="2.0"/><circle cx="411.8" cy="257.1" r="2.0"/><circle cx="435.6" cy="215.8" r="2.0"/><circle cx="421.4" cy="199.8" r="2.0"/><circle cx="433.1" cy="124.0" r="2.0"/><circle cx="432.9" cy="146.1" r="2.0"/><circle cx="439.7" cy="275.6" r="2.0"/><circle cx="409.5" cy="197.3" r="2.0"/><circle cx="439.6" cy="183.1" r="2.0"/><circle cx="409.2" cy="287.0" r="2.0"/><circle cx="414.9" cy="229.8" r="2.0"/><circle cx="430.3" cy="198.6" r="2.0"/><circle cx="417.6" cy="150.8" r="2.0"/><circle cx="405.8" cy="186.1" r="2.0"/><circle cx="439.6" cy="114.0" r="2.0"/><circle cx="439.3" cy="191.7" r="2.0"/><circle cx="415.0" cy="207.8" r="2.0"/><circle cx="415.2" cy="249.8" r="2.0"/><circle cx="421.2" cy="237.6" r="2.0"/><circle cx="403.7" cy="213.7" r="2.0"/><circle cx="401.2" cy="235.8" r="2.0"/><circle cx="439.3" cy="156.1" r="2.0"/><circle cx="435.8" cy="130.9" r="2.0"/><circle cx="435.4" cy="127.7" r="2.0"/><circle cx="406.3" cy="236.5" r="2.0"/><circle cx="417.7" cy="171.1" r="2.0"/><circle cx="403.7" cy="219.3" r="2.0"/><circle cx="409.4" cy="285.1" r="2.0"/><circle cx="406.0" cy="267.2" r="2.0"/><circle cx="400.8" cy="272.0" r="2.0"/><circle cx="409.5" cy="229.5" r="2.0"/><circle cx="424.1" cy="136.7" r="2.0"/><circle cx="400.8" cy="211.2" r="2.0"/><circle cx="406.4" cy="241.5" r="2.0"/><circle cx="411.9" cy="197.8" r="2.0"/><circle cx="430.2" cy="239.1" r="2.0"/><circle cx="409.6" cy="172.6" r="2.0"/><circle cx="417.6" cy="184.3" r="2.0"/><circle cx="424.5" cy="173.9" r="2.0"/><circle cx="435.8" cy="204.8" r="2.0"/><circle cx="405.9" cy="203.4" r="2.0"/><circle cx="417.6" cy="209.7" r="2.0"/><circle cx="432.8" cy="195.7" r="2.0"/><circle cx="435.3" cy="199.1" r="2.0"/><circle cx="415.1" cy="210.7" r="2.0"/><circle cx="424.1" cy="145.4" r="2.0"/><circle cx="403.4" cy="278.2" r="2.0"/><circle cx="420.7" cy="205.6" r="2.0"/><circle cx="430.2" cy="196.1" r="2.0"/><circle cx="435.8" cy="255.8" r="2.0"/><circle cx="415.2" cy="150.9" r="2.0"/><circle cx="409.0" cy="238.7" r="2.0"/><circle cx="401.1" cy="195.7" r="2.0"/><circle cx="415.6" cy="196.6" r="2.0"/><circle cx="406.5" cy="244.7" r="2.0"/><circle cx="403.4" cy="270.6" r="2.0"/><circle cx="403.8" cy="176.1" r="2.0"/><circle cx="424.2" cy="182.4" r="2.0"/><circle cx="424.2" cy="270.7" r="2.0"/><circle cx="412.4" cy="239.4" r="2.0"/><circle cx="400.9" cy="304.9" r="2.0"/><circle cx="432.9" cy="232.2" r="2.0"/><circle cx="439.3" cy="206.8" r="2.0"/><circle cx="403.7" cy="182.4" r="2.0"/><circle cx="415.6" cy="278.2" r="2.0"/><circle cx="411.8" cy="234.7" r="2.0"/><circle cx="401.2" cy="280.6" r="2.0"/><circle cx="409.7" cy="181.0" r="2.0"/><circle cx="408.8" cy="288.8" r="2.0"/><circle cx="411.7" cy="188.8" r="2.0"/><circle cx="418.0" cy="163.6" r="2.0"/><circle cx="405.9" cy="272.0" r="2.0"/><circle cx="420.9" cy="227.8" r="2.0"/><circle cx="409.1" cy="204.2" r="2.0"/><circle cx="418.1" cy="216.5" r="2.0"/><circle cx="439.6" cy="111.0" r="2.0"/><circle cx="403.2" cy="246.7" r="2.0"/><circle cx="439.4" cy="135.4" r="2.0"/><circle cx="427.2" cy="253.0" r="2.0"/><circle cx="415.2" cy="198.4" r="2.0"/><circle cx="412.0" cy="236.6" r="2.0"/><circle cx="403.5" cy="248.3" r="2.0"/><circle cx="406.6" cy="193.8" r="2.0"/><circle cx="418.1" cy="225.6" r="2.0"/><circle cx="432.9" cy="201.0" r="2.0"/><circle cx="430.3" cy="215.2" r="2.0"/><circle cx="403.7" cy="192.5" r="2.0"/><circle cx="424.5" cy="191.4" r="2.0"/><circle cx="420.9" cy="253.7" r="2.0"/><circle cx="417.8" cy="161.5" r="2.0"/><circle cx="427.3" cy="231.0" r="2.0"/><circle cx="400.6" cy="270.0" r="2.0"/><circle cx="401.2" cy="315.1" r="2.0"/><circle cx="401.1" cy="251.2" r="2.0"/><circle cx="403.8" cy="232.8" r="2.0"/><circle cx="417.5" cy="182.2" r="2.0"/><circle cx="435.8" cy="239.1" r="2.0"/><circle cx="439.3" cy="197.8" r="2.0"/><circle cx="415.5" cy="247.3" r="2.0"/><circle cx="400.9" cy="277.4" r="2.0"/><circle cx="439.4" cy="165.2" r="2.0"/><circle cx="405.7" cy="216.5" r="2.0"/><circle cx="430.3" cy="247.4" r="2.0"/><circle cx="430.0" cy="201.1" r="2.0"/><circle cx="421.3" cy="222.6" r="2.0"/><circle cx="404.1" cy="262.1" r="2.0"/><circle cx="421.2" cy="164.4" r="2.0"/><circle cx="412.1" cy="285.4" r="2.0"/><circle cx="412.1" cy="246.1" r="2.0"/><circle cx="409.1" cy="269.2" r="2.0"/><circle cx="430.0" cy="125.2" r="2.0"/><circle cx="439.5" cy="162.4" r="2.0"/><circle cx="424.4" cy="188.7" r="2.0"/><circle cx="430.1" cy="122.0" r="2.0"/><circle cx="409.4" cy="250.8" r="2.0"/><circle cx="400.9" cy="267.5" r="2.0"/><circle cx="403.8" cy="255.4" r="2.0"/><circle cx="400.7" cy="233.7" r="2.0"/><circle cx="439.7" cy="186.0" r="2.0"/><circle cx="427.5" cy="123.0" r="2.0"/><circle cx="412.2" cy="288.1" r="2.0"/><circle cx="415.7" cy="262.1" r="2.0"/><circle cx="401.2" cy="259.3" r="2.0"/><circle cx="430.2" cy="212.6" r="2.0"/><circle cx="415.2" cy="192.8" r="2.0"/><circle cx="406.2" cy="265.8" r="2.0"/><circle cx="403.5" cy="228.4" r="2.0"/><circle cx="424.0" cy="122.0" r="2.0"/><circle cx="432.9" cy="178.6" r="2.0"/><circle cx="417.5" cy="166.5" r="2.0"/><circle cx="406.2" cy="167.5" r="2.0"/><circle cx="417.6" cy="173.0" r="2.0"/><circle cx="424.4" cy="211.2" r="2.0"/><circle cx="401.1" cy="296.8" r="2.0"/><circle cx="411.7" cy="213.7" r="2.0"/><circle cx="406.1" cy="252.6" r="2.0"/><circle cx="424.6" cy="282.8" r="2.0"/><circle cx="418.2" cy="238.8" r="2.0"/><circle cx="415.2" cy="294.7" r="2.0"/><circle cx="427.5" cy="250.0" r="2.0"/><circle cx="430.2" cy="156.3" r="2.0"/><circle cx="417.5" cy="143.8" r="2.0"/><circle cx="415.2" cy="129.5" r="2.0"/><circle cx="409.3" cy="199.4" r="2.0"/><circle cx="403.8" cy="251.3" r="2.0"/><circle cx="409.1" cy="223.5" r="2.0"/><circle cx="409.1" cy="267.6" r="2.0"/><circle cx="409.4" cy="217.1" r="2.0"/><circle cx="409.8" cy="245.4" r="2.0"/><circle cx="430.1" cy="189.7" r="2.0"/><circle cx="424.3" cy="249.3" r="2.0"/><circle cx="424.3" cy="162.5" r="2.0"/><circle cx="415.5" cy="203.5" r="2.0"/><circle cx="427.4" cy="131.3" r="2.0"/><circle cx="411.6" cy="242.0" r="2.0"/><circle cx="427.2" cy="128.7" r="2.0"/><circle cx="430.2" cy="161.9" r="2.0"/><circle cx="417.9" cy="227.5" r="2.0"/><circle cx="412.2" cy="184.3" r="2.0"/><circle cx="403.4" cy="190.8" r="2.0"/><circle cx="415.2" cy="285.9" r="2.0"/><circle cx="427.5" cy="172.1" r="2.0"/><circle cx="403.4" cy="242.0" r="2.0"/><circle cx="427.1" cy="183.7" r="2.0"/><circle cx="420.8" cy="256.7" r="2.0"/><circle cx="417.6" cy="198.1" r="2.0"/><circle cx="400.7" cy="204.6" r="2.0"/><circle cx="439.5" cy="248.4" r="2.0"/><circle cx="412.2" cy="230.3" r="2.0"/><circle cx="408.9" cy="255.2" r="2.0"/><circle cx="439.5" cy="117.1" r="2.0"/><circle cx="424.6" cy="128.3" r="2.0"/><circle cx="417.5" cy="221.2" r="2.0"/><circle cx="435.6" cy="172.9" r="2.0"/><circle cx="403.6" cy="178.0" r="2.0"/><circle cx="430.3" cy="241.8" r="2.0"/><circle cx="415.2" cy="176.1" r="2.0"/><circle cx="439.6" cy="278.5" r="2.0"/><circle cx="439.5" cy="159.2" r="2.0"/><circle cx="409.3" cy="242.9" r="2.0"/><circle cx="417.5" cy="189.0" r="2.0"/><circle cx="424.3" cy="185.4" r="2.0"/><circle cx="427.1" cy="220.1" r="2.0"/><circle cx="427.1" cy="180.6" r="2.0"/><circle cx="404.0" cy="236.9" r="2.0"/><circle cx="427.1" cy="166.5" r="2.0"/><circle cx="415.0" cy="266.9" r="2.0"/><circle cx="424.3" cy="228.6" r="2.0"/><circle cx="435.6" cy="195.9" r="2.0"/><circle cx="427.2" cy="203.0" r="2.0"/><circle cx="411.9" cy="273.4" r="2.0"/><circle cx="405.9" cy="249.1" r="2.0"/><circle cx="430.2" cy="139.5" r="2.0"/><circle cx="406.0" cy="238.5" r="2.0"/><circle cx="414.9" cy="127.5" r="2.0"/><circle cx="401.1" cy="291.0" r="2.0"/><circle cx="430.0" cy="181.4" r="2.0"/><circle cx="406.1" cy="268.8" r="2.0"/><circle cx="421.1" cy="153.9" r="2.0"/><circle cx="412.3" cy="262.0" r="2.0"/><circle cx="412.5" cy="250.3" r="2.0"/><circle cx="414.9" cy="206.1" r="2.0"/><circle cx="401.0" cy="184.1" r="2.0"/><circle cx="435.6" cy="207.6" r="2.0"/><circle cx="412.3" cy="295.2" r="2.0"/><circle cx="421.3" cy="235.2" r="2.0"/><circle cx="411.6" cy="186.1" r="2.0"/></g>
<g fill="#0000ff"><circle cx="415.5" cy="133.0" r="2.5"/><circle cx="415.3" cy="135.0" r="2.5"/><circle cx="416.2" cy="137.0" r="2.5"/><circle cx="416.2" cy="139.0" r="2.5"/><circle cx="415.6" cy="141.0" r="2.5"/><circle cx="415.7" cy="148.0" r="2.5"/><circle cx="415.7" cy="150.0" r="2.5"/><circle cx="415.2" cy="152.0" r="2.5"/><circle cx="415.5" cy="154.0" r="2.5"/><circle cx="415.8" cy="156.0" r="2.5"/><circle cx="418.4" cy="140.0" r="2.5"/><circle cx="418.9" cy="144.0" r="2.5"/><circle cx="417.0" cy="145.5" r="2.5"/><circle cx="423.9" cy="126.5" r="2.5"/><circle cx="424.4" cy="128.3" r="2.5"/><circle cx="423.6" cy="130.1" r="2.5"/><circle cx="423.8" cy="131.9" r="2.5"/><circle cx="424.2" cy="133.7" r="2.5"/><circle cx="423.6" cy="135.5" r="2.5"/><circle cx="425.1" cy="126.5" r="2.5"/><circle cx="425.8" cy="128.3" r="2.5"/><circle cx="425.3" cy="130.1" r="2.5"/><circle cx="425.7" cy="131.9" r="2.5"/><circle cx="429.4" cy="124.8" r="2.5"/><circle cx="429.3" cy="126.6" r="2.5"/><circle cx="429.6" cy="128.4" r="2.5"/><circle cx="432.1" cy="126.0" r="2.5"/><circle cx="433.1" cy="127.8" r="2.5"/><circle cx="432.2" cy="129.6" r="2.5"/><circle cx="432.6" cy="131.4" r="2.5"/><circle cx="434.3" cy="127.0" r="2.5"/><circle cx="434.8" cy="128.8" r="2.5"/><circle cx="434.7" cy="130.6" r="2.5"/><circle cx="434.7" cy="132.4" r="2.5"/><circle cx="434.3" cy="134.2" r="2.5"/><circle cx="438.8" cy="121.5" r="2.5"/><circle cx="439.8" cy="123.3" r="2.5"/><circle cx="439.1" cy="125.1" r="2.5"/><circle cx="438.9" cy="126.9" r="2.5"/><circle cx="438.9" cy="128.7" r="2.5"/><circle cx="439.0" cy="130.5" r="2.5"/><circle cx="438.9" cy="132.3" r="2.5"/><circle cx="438.6" cy="134.1" r="2.5"/><circle cx="439.5" cy="135.9" r="2.5"/><circle cx="439.1" cy="137.7" r="2.5"/><circle cx="438.8" cy="139.5" r="2.5"/><circle cx="439.6" cy="141.3" r="2.5"/><circle cx="438.7" cy="143.1" r="2.5"/><circle cx="412.6" cy="165.6" r="2.5"/><circle cx="407.2" cy="169.8" r="2.5"/><circle cx="409.9" cy="172.6" r="2.5"/><circle cx="401.3" cy="186.4" r="2.5"/></g>
<g fill="#000"><circle cx="89.55" cy="141.6" r="2.4"/><circle cx="86.2" cy="146.5" r="2.4"/><circle cx="92.3" cy="150.3" r="2.4"/><circle cx="145.0" cy="156.5" r="2.4"/><circle cx="173.9" cy="162.0" r="2.4"/><circle cx="170.5" cy="168.0" r="2.4"/><circle cx="171.8" cy="169.8" r="2.4"/><circle cx="174.9" cy="169.8" r="2.4"/><circle cx="177.3" cy="170.4" r="2.4"/><circle cx="175.5" cy="172" r="2.4"/><circle cx="171.4" cy="173.5" r="2.4"/><circle cx="178" cy="175.4" r="2.4"/><circle cx="171.4" cy="179.7" r="2.4"/><circle cx="172" cy="181.2" r="2.4"/><circle cx="196.8" cy="116.2" r="2.4"/><circle cx="188.9" cy="127.2" r="2.4"/><circle cx="190.9" cy="127.9" r="2.4"/><circle cx="193.6" cy="128.2" r="2.4"/><circle cx="196.3" cy="127.9" r="2.4"/><circle cx="201.1" cy="131.6" r="2.4"/><circle cx="196.3" cy="131.6" r="2.4"/><circle cx="195.7" cy="134.3" r="2.4"/><circle cx="197" cy="137.7" r="2.4"/><circle cx="186.1" cy="140.4" r="2.4"/><circle cx="188.4" cy="139.7" r="2.4"/><circle cx="195" cy="141.1" r="2.4"/><circle cx="197.7" cy="142.4" r="2.4"/><circle cx="192.9" cy="144.8" r="2.4"/><circle cx="201.1" cy="146.5" r="2.4"/><circle cx="197.4" cy="147.2" r="2.4"/><circle cx="188.2" cy="149.3" r="2.4"/><circle cx="192.9" cy="149.3" r="2.4"/><circle cx="197.4" cy="149.9" r="2.4"/><circle cx="182" cy="152" r="2.4"/><circle cx="197.7" cy="152.7" r="2.4"/><circle cx="191.6" cy="158.1" r="2.4"/><circle cx="197.4" cy="157.4" r="2.4"/><circle cx="203.2" cy="157.4" r="2.4"/><circle cx="197.2" cy="139.5" r="2.4"/><circle cx="196.8" cy="144.6" r="2.4"/><circle cx="197.9" cy="154.4" r="2.4"/><circle cx="199.0" cy="128.6" r="2.4"/><circle cx="204.2" cy="162.3" r="2.4"/><circle cx="206.6" cy="164.3" r="2.4"/><circle cx="204.5" cy="165" r="2.4"/><circle cx="207.2" cy="169.1" r="2.4"/><circle cx="200.4" cy="171.8" r="2.4"/><circle cx="203.8" cy="170.2" r="2.4"/><circle cx="209.3" cy="171.1" r="2.4"/><circle cx="210" cy="173.2" r="2.4"/><circle cx="203.2" cy="177.9" r="2.4"/><circle cx="200.2" cy="180" r="2.4"/><circle cx="199.7" cy="182" r="2.4"/><circle cx="200.2" cy="186.1" r="2.4"/><circle cx="203.2" cy="186.8" r="2.4"/><circle cx="200.7" cy="190.2" r="2.4"/><circle cx="210.6" cy="145.9" r="2.4"/><circle cx="227.3" cy="126.4" r="2.4"/><circle cx="224.2" cy="131.1" r="2.4"/><circle cx="231" cy="132.7" r="2.4"/><circle cx="230.4" cy="137.9" r="2.4"/><circle cx="236" cy="137.3" r="2.4"/><circle cx="218.4" cy="142" r="2.4"/><circle cx="221.1" cy="142" r="2.4"/><circle cx="224.2" cy="141.6" r="2.4"/><circle cx="225.5" cy="144.1" r="2.4"/><circle cx="226.1" cy="146.5" r="2.4"/><circle cx="228.6" cy="147.8" r="2.4"/><circle cx="236.6" cy="150.9" r="2.4"/><circle cx="234.1" cy="152.7" r="2.4"/><circle cx="229.2" cy="154.6" r="2.4"/><circle cx="219.3" cy="155.2" r="2.4"/><circle cx="217.4" cy="157.7" r="2.4"/><circle cx="221.7" cy="157.7" r="2.4"/><circle cx="224.8" cy="155.8" r="2.4"/><circle cx="232.9" cy="158.3" r="2.4"/><circle cx="226.1" cy="159.5" r="2.4"/><circle cx="219.9" cy="160.8" r="2.4"/><circle cx="223.6" cy="162" r="2.4"/><circle cx="229.2" cy="162.6" r="2.4"/><circle cx="236" cy="162" r="2.4"/><circle cx="219.3" cy="163.9" r="2.4"/><circle cx="218" cy="164.8" r="2.4"/><circle cx="219.9" cy="167.3" r="2.4"/><circle cx="221.7" cy="169.8" r="2.4"/><circle cx="229.2" cy="167.9" r="2.4"/><circle cx="232.3" cy="169.8" r="2.4"/><circle cx="235.4" cy="169.8" r="2.4"/><circle cx="219.3" cy="172.9" r="2.4"/><circle cx="218" cy="174.1" r="2.4"/><circle cx="234.1" cy="176.6" r="2.4"/><circle cx="229.8" cy="180.7" r="2.4"/><circle cx="232.9" cy="152.5" r="2.4"/><circle cx="333.7" cy="70.5" r="2.4"/><circle cx="324.2" cy="95.8" r="2.4"/><circle cx="341.8" cy="107.4" r="2.4"/><circle cx="321.3" cy="111.1" r="2.4"/><circle cx="333.2" cy="110.1" r="2.4"/><circle cx="324" cy="121.5" r="2.4"/><circle cx="325" cy="123" r="2.4"/><circle cx="327.6" cy="125" r="2.4"/><circle cx="335.7" cy="123.5" r="2.4"/><circle cx="336.6" cy="126" r="2.4"/><circle cx="315.4" cy="132.7" r="2.4"/><circle cx="330.5" cy="129.4" r="2.4"/><circle cx="329.5" cy="134.2" r="2.4"/><circle cx="332.5" cy="134.5" r="2.4"/><circle cx="329.5" cy="136.8" r="2.4"/><circle cx="319.1" cy="149" r="2.4"/></g>
<g fill="#000">
<rect x="44.15" y="41.9" width="1.65" height="320.8"/>
<rect x="44.15" y="361.05" width="404.6" height="1.6"/>
<rect x="45.6" y="39.65" width="403.2" height="1.4"/>
<rect x="447.15" y="41.9" width="1.6" height="320.8"/>
<rect x="38.80" y="56.25" width="6.20" height="1.5"/>
<rect x="441.75" y="56.25" width="6.20" height="1.5"/>
<rect x="41.80" y="86.74" width="3.20" height="1.5"/>
<rect x="444.75" y="86.74" width="3.20" height="1.5"/>
<rect x="38.80" y="117.23" width="6.20" height="1.5"/>
<rect x="441.75" y="117.23" width="6.20" height="1.5"/>
<rect x="41.80" y="147.72" width="3.20" height="1.5"/>
<rect x="444.75" y="147.72" width="3.20" height="1.5"/>
<rect x="38.80" y="178.21" width="6.20" height="1.5"/>
<rect x="441.75" y="178.21" width="6.20" height="1.5"/>
<rect x="41.80" y="208.70" width="3.20" height="1.5"/>
<rect x="444.75" y="208.70" width="3.20" height="1.5"/>
<rect x="38.80" y="239.19" width="6.20" height="1.5"/>
<rect x="441.75" y="239.19" width="6.20" height="1.5"/>
<rect x="41.80" y="269.68" width="3.20" height="1.5"/>
<rect x="444.75" y="269.68" width="3.20" height="1.5"/>
<rect x="38.80" y="300.17" width="6.20" height="1.5"/>
<rect x="441.75" y="300.17" width="6.20" height="1.5"/>
<rect x="41.80" y="330.66" width="3.20" height="1.5"/>
<rect x="444.75" y="330.66" width="3.20" height="1.5"/>
<rect x="38.80" y="361.15" width="6.20" height="1.5"/>
<rect x="441.75" y="361.15" width="6.20" height="1.5"/>
<rect x="44.25" y="362" width="1.5" height="6.00"/>
<rect x="84.55" y="362" width="1.5" height="3.00"/>
<rect x="124.85" y="362" width="1.5" height="6.00"/>
<rect x="165.15" y="362" width="1.5" height="3.00"/>
<rect x="205.45" y="362" width="1.5" height="6.00"/>
<rect x="245.75" y="362" width="1.5" height="3.00"/>
<rect x="286.05" y="362" width="1.5" height="6.00"/>
<rect x="326.35" y="362" width="1.5" height="3.00"/>
<rect x="366.65" y="362" width="1.5" height="6.00"/>
<rect x="406.95" y="362" width="1.5" height="3.00"/>
<rect x="447.25" y="362" width="1.5" height="6.00"/>
<rect x="55.89" y="37.2" width="1.5" height="6.3"/>
<rect x="85.35" y="34.2" width="1.5" height="6"/>
<rect x="114.81" y="37.2" width="1.5" height="6.3"/>
<rect x="144.27" y="34.2" width="1.5" height="6"/>
<rect x="173.73" y="37.2" width="1.5" height="6.3"/>
<rect x="203.19" y="34.2" width="1.5" height="6"/>
<rect x="232.65" y="37.2" width="1.5" height="6.3"/>
<rect x="262.11" y="34.2" width="1.5" height="6"/>
<rect x="291.57" y="37.2" width="1.5" height="6.3"/>
<rect x="321.03" y="34.2" width="1.5" height="6"/>
<rect x="350.49" y="37.2" width="1.5" height="6.3"/>
<rect x="379.95" y="34.2" width="1.5" height="6"/>
<rect x="409.41" y="37.2" width="1.5" height="6.3"/>
<rect x="438.87" y="34.2" width="1.5" height="6"/>
</g>
<line x1="171.66" y1="40.3" x2="171.66" y2="362.0" stroke="#ff0000" stroke-width="0.65" stroke-dasharray="2.75 2.03" stroke-dashoffset="0.90"/>
<line x1="228.76" y1="40.3" x2="228.76" y2="362.0" stroke="#ff0000" stroke-width="0.65" stroke-dasharray="2.75 2.03" stroke-dashoffset="0.90"/>
<line x1="400.45" y1="40.3" x2="400.45" y2="362.0" stroke="#ff0000" stroke-width="0.65" stroke-dasharray="2.75 2.03" stroke-dashoffset="0.90"/>
<line x1="429.45" y1="40.3" x2="429.45" y2="362.0" stroke="#ff0000" stroke-width="0.65" stroke-dasharray="2.75 2.03" stroke-dashoffset="0.90"/>
<line x1="200.2" y1="40.3" x2="200.2" y2="362.0" stroke="#ff0000" stroke-width="1.25" stroke-dasharray="2.75 2.03" stroke-dashoffset="0.90"/>
<line x1="45.0" y1="117.50" x2="448.0" y2="117.50" stroke="#ff0000" stroke-width="0.7" stroke-dasharray="2.75 2.03" stroke-dashoffset="1.28"/>
<line x1="45.0" y1="179.40" x2="448.0" y2="179.40" stroke="#ff0000" stroke-width="0.7" stroke-dasharray="2.75 2.03" stroke-dashoffset="1.28"/>
<line x1="44.55" y1="117.5" x2="44.55" y2="179.4" stroke="#ff0000" stroke-width="0.9" stroke-dasharray="2.75 2.03" stroke-dashoffset="0.20"/>
<line x1="447.9" y1="117.5" x2="447.9" y2="179.4" stroke="#ff0000" stroke-width="1.3" stroke-dasharray="2.75 2.03" stroke-dashoffset="2.98"/>
<line x1="171.66" y1="39.80" x2="228.76" y2="39.80" stroke="#ff0000" stroke-width="1.0" stroke-dasharray="2.75 2.03" stroke-dashoffset="0.00"/>
<line x1="171.66" y1="361.60" x2="228.76" y2="361.60" stroke="#ff0000" stroke-width="1.0" stroke-dasharray="2.75 2.03" stroke-dashoffset="0.00"/>
<line x1="400.45" y1="39.80" x2="429.45" y2="39.80" stroke="#ff0000" stroke-width="1.0" stroke-dasharray="2.75 2.03" stroke-dashoffset="0.00"/>
<line x1="400.45" y1="361.60" x2="429.45" y2="361.60" stroke="#ff0000" stroke-width="1.0" stroke-dasharray="2.75 2.03" stroke-dashoffset="0.00"/>
<g font-size="14" text-anchor="middle">
<text x="87.0" y="31">1900</text>
<text x="145.9" y="31">1920</text>
<text x="204.8" y="31">1940</text>
<text x="263.8" y="31">1960</text>
<text x="322.7" y="31">1980</text>
<text x="381.6" y="31">2000</text>
<text x="440.5" y="31">2020</text>
<text x="44.5" y="383.4">2410000</text>
<text x="125.1" y="383.4">2420000</text>
<text x="205.7" y="383.4">2430000</text>
<text x="286.3" y="383.4">2440000</text>
<text x="366.9" y="383.4">2450000</text>
<text x="447.5" y="383.4">2460000</text>
</g>
<g font-size="14" text-anchor="end">
<text x="34.2" y="61.9">13</text>
<text x="34.2" y="122.9">14</text>
<text x="34.2" y="183.9">15</text>
<text x="34.2" y="244.8">16</text>
<text x="34.2" y="305.8">17</text>
<text x="34.2" y="366.8">18</text>
</g>
<text x="240" y="11.8" font-size="17" text-anchor="middle">Year</text>
<text x="239" y="403.9" font-size="17" text-anchor="middle">JD</text>
<text transform="translate(12.4,201.6) rotate(-90)" font-size="17" text-anchor="middle">Mag</text>
<rect x="53.5" y="307" width="68.2" height="28.5" fill="#fff" stroke="#444" stroke-width="0.9"/>
<circle cx="67.1" cy="314.2" r="2" fill="#fff" stroke="#000" stroke-width="0.8"/>
<circle cx="67.1" cy="327.7" r="2.3" fill="#000"/>
<text x="82.3" y="318.4" font-size="11">AAVSO</text>
<text x="82.3" y="331.6" font-size="11">DASCH</text>
</svg></body></html>
